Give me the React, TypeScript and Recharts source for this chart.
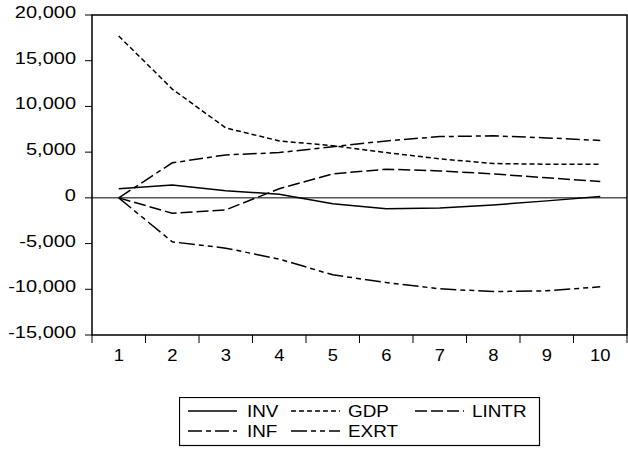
import { LineChart, Line, XAxis, YAxis, ReferenceArea, ReferenceLine } from "recharts";

const periods = [1, 2, 3, 4, 5, 6, 7, 8, 9, 10];
const inv = [1000, 1400, 780, 400, -640, -1200, -1100, -770, -330, 140];
const gdp = [17700, 11900, 7650, 6230, 5700, 4950, 4270, 3750, 3680, 3680];
const lintr = [0, -1680, -1310, 1000, 2620, 3130, 2950, 2620, 2190, 1790];
const inf = [0, 3830, 4700, 4950, 5600, 6230, 6700, 6780, 6560, 6280];
const exrt = [0, -4810, -5500, -6700, -8420, -9260, -9950, -10250, -10170, -9730];
const yTicks = [-15000, -10000, -5000, 0, 5000, 10000, 15000, 20000];

const data = periods.map((p, i) => ({
  period: p,
  INV: inv[i],
  GDP: gdp[i],
  LINTR: lintr[i],
  INF: inf[i],
  EXRT: exrt[i],
}));

const series = [
  { key: "INV", dash: undefined },
  { key: "GDP", dash: "5 3" },
  { key: "LINTR", dash: "12 4" },
  { key: "INF", dash: "14 4 5 4" },
  { key: "EXRT", dash: "16 4 5 4 5 4" },
];

// boundaries between periods get the tick marks, the periods themselves the labels
const xTicks = [...periods.flatMap((p) => [p - 0.5, p]), periods[periods.length - 1] + 0.5];

const FONT = "'Liberation Sans', Arial, sans-serif";

function XTick({ x, y, payload }: any) {
  const v = payload.value as number;
  if (!Number.isInteger(v)) {
    return <line x1={x} x2={x} y1={y} y2={y + 8} stroke="#000" strokeWidth={1} />;
  }
  return (
    <g transform={`translate(${x},${y + 26})`}>
      <text transform="scale(1.15,1)" textAnchor="middle" fontFamily={FONT} fontSize={16} fill="#000">
        {v}
      </text>
    </g>
  );
}

function YTick({ x, y, payload }: any) {
  return (
    <g transform={`translate(${x},${y})`}>
      <text transform="scale(1.25,1)" textAnchor="end" dy={3} fontFamily={FONT} fontSize={16} fill="#000">
        {(payload.value as number).toLocaleString("en-US")}
      </text>
    </g>
  );
}

function LegendBox() {
  const cols = [
    { lx: 9, tx: 68 },
    { lx: 112, tx: 169 },
    { lx: 236, tx: 293 },
  ];
  return (
    <svg width={362} height={50} style={{ position: "absolute", left: 179, top: 397 }}>
      <rect x={0.5} y={0.5} width={360} height={48} fill="#fff" stroke="#000" strokeWidth={1.2} />
      {series.map((s, i) => {
        const c = cols[i % 3];
        const ry = i < 3 ? 14 : 34;
        return (
          <g key={s.key}>
            <line x1={c.lx} x2={c.lx + 49} y1={ry} y2={ry} stroke="#000" strokeWidth={1.5} strokeDasharray={s.dash} />
            <g transform={`translate(${c.tx},${ry + 6})`}>
              <text transform="scale(1.18,1)" fontFamily={FONT} fontSize={16} fill="#000">
                {s.key}
              </text>
            </g>
          </g>
        );
      })}
    </svg>
  );
}

export default function App() {
  return (
    <div style={{ position: "absolute", left: 0, top: 0, width: 628, height: 449, background: "#fff" }}>
      <LineChart width={628} height={449} data={data} margin={{ top: 15, right: 1, left: 0, bottom: 84 }}>
        <XAxis
          dataKey="period"
          type="number"
          domain={[0.5, 10.5]}
          ticks={xTicks}
          interval={0}
          axisLine={false}
          tickLine={false}
          tickSize={0}
          tickMargin={0}
          height={30}
          tick={<XTick />}
        />
        <YAxis
          type="number"
          domain={[-15000, 20000]}
          ticks={yTicks}
          interval={0}
          width={92}
          axisLine={false}
          tickLine={{ stroke: "#000", strokeWidth: 1 }}
          tickSize={7}
          tickMargin={9}
          tick={<YTick />}
        />
        <ReferenceLine y={0} stroke="#000" strokeWidth={1} />
        {series.map((s) => (
          <Line
            key={s.key}
            dataKey={s.key}
            type="linear"
            stroke="#000"
            strokeWidth={1.5}
            strokeDasharray={s.dash}
            dot={false}
            activeDot={false}
            isAnimationActive={false}
          />
        ))}
        <ReferenceArea x1={0.5} x2={10.5} y1={-15000} y2={20000} fill="none" stroke="#000" strokeWidth={1.5} />
      </LineChart>
      <LegendBox />
    </div>
  );
}
